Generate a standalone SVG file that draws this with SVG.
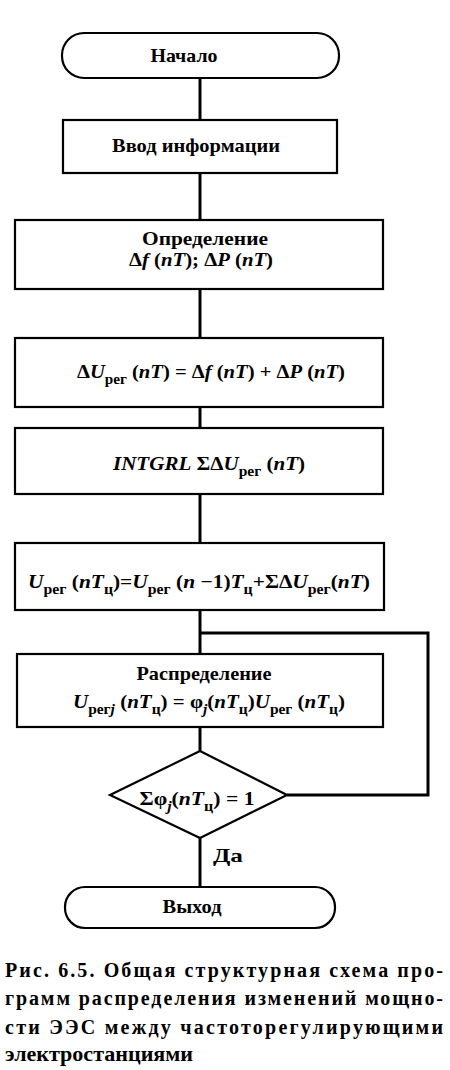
<svg xmlns="http://www.w3.org/2000/svg" width="450" height="1070" viewBox="0 0 450 1070">
<style>
.b{fill:#fff;stroke:#000;stroke-width:2.2}
.c{fill:none;stroke:#000;stroke-width:3}
.m{text-anchor:middle}
.i{font-style:italic}
.s{font-size:14px}
.cap{font-size:20px}
</style>
<rect width="450" height="1070" fill="#fff"/>
<g id="connectors">
<path class="c" d="M200 78V120M200 173V220M200 289V338M200 407V428M200 494V543M200 610V654M200 727V751M200 838V887"/>
<path class="c" d="M287 795H428V633H200"/>
</g>
<g font-family="Liberation Serif, Times New Roman, DejaVu Serif, serif" font-weight="bold" font-size="19" fill="#000">
<g id="start"><rect class="b" x="62" y="33" width="277" height="45" rx="22"/><text class="m" x="184" y="62" textLength="67" lengthAdjust="spacingAndGlyphs">Начало</text></g>
<g id="input"><rect class="b" x="63" y="120" width="274" height="53"/><text class="m" x="196" y="152" textLength="168" lengthAdjust="spacingAndGlyphs">Ввод информации</text></g>
<g id="determine"><rect class="b" x="15" y="220" width="368" height="69"/>
<text class="m" x="205" y="245" textLength="126" lengthAdjust="spacingAndGlyphs">Определение</text>
<text class="m" x="201" y="266" textLength="144" lengthAdjust="spacingAndGlyphs">Δ<tspan class="i">f</tspan> (<tspan class="i">nT</tspan>); Δ<tspan class="i">P</tspan> (<tspan class="i">nT</tspan>)</text></g>
<g id="deltaU"><rect class="b" x="15" y="338" width="368" height="69"/>
<text class="m" x="211" y="378" textLength="268" lengthAdjust="spacingAndGlyphs">Δ<tspan class="i">U</tspan><tspan class="s" dy="6">рег</tspan><tspan dy="-6"> (</tspan><tspan class="i">nT</tspan>) = Δ<tspan class="i">f</tspan> (<tspan class="i">nT</tspan>) + Δ<tspan class="i">P</tspan> (<tspan class="i">nT</tspan>)</text></g>
<g id="intgrl"><rect class="b" x="15" y="428" width="368" height="66"/>
<text class="m" x="209" y="470" textLength="192" lengthAdjust="spacingAndGlyphs"><tspan class="i">INTGRL</tspan> ΣΔ<tspan class="i">U</tspan><tspan class="s" dy="6">рег</tspan><tspan dy="-6"> (</tspan><tspan class="i">nT</tspan>)</text></g>
<g id="ureg"><rect class="b" x="15" y="543" width="369" height="67"/>
<text class="m" x="199" y="588" textLength="342" lengthAdjust="spacingAndGlyphs"><tspan class="i">U</tspan><tspan class="s" dy="6">рег</tspan><tspan dy="-6"> (</tspan><tspan class="i">nT</tspan><tspan class="s" dy="6">ц</tspan><tspan dy="-6">)=</tspan><tspan class="i">U</tspan><tspan class="s" dy="6">рег</tspan><tspan dy="-6"> (</tspan><tspan class="i">n</tspan> −1)<tspan class="i">T</tspan><tspan class="s" dy="6">ц</tspan><tspan dy="-6">+ΣΔ</tspan><tspan class="i">U</tspan><tspan class="s" dy="6">рег</tspan><tspan dy="-6">(</tspan><tspan class="i">nT</tspan>)</text></g>
<g id="distribute"><rect class="b" x="17" y="654" width="366" height="73"/>
<text class="m" x="204" y="680" textLength="135" lengthAdjust="spacingAndGlyphs">Распределение</text>
<text class="m" x="209" y="708" textLength="272" lengthAdjust="spacingAndGlyphs"><tspan class="i">U</tspan><tspan class="s" dy="6">рег<tspan class="i">j</tspan></tspan><tspan dy="-6"> (</tspan><tspan class="i">nT</tspan><tspan class="s" dy="6">ц</tspan><tspan dy="-6">) = φ</tspan><tspan class="s i" dy="6">j</tspan><tspan dy="-6">(</tspan><tspan class="i">nT</tspan><tspan class="s" dy="6">ц</tspan><tspan dy="-6">)</tspan><tspan class="i">U</tspan><tspan class="s" dy="6">рег</tspan><tspan dy="-6"> (</tspan><tspan class="i">nT</tspan><tspan class="s" dy="6">ц</tspan><tspan dy="-6">)</tspan></text></g>
<g id="check"><polygon class="b" points="200,751 287,795 200,838 110,795"/>
<text class="m" x="197" y="805" textLength="115" lengthAdjust="spacingAndGlyphs">Σφ<tspan class="s i" dy="6">j</tspan><tspan dy="-6">(</tspan><tspan class="i">nT</tspan><tspan class="s" dy="6">ц</tspan><tspan dy="-6">) = 1</tspan></text>
<text x="213" y="862" textLength="30" lengthAdjust="spacingAndGlyphs">Да</text></g>
<g id="exit"><rect class="b" x="65" y="887" width="270" height="41" rx="20"/><text class="m" x="192" y="913" textLength="59" lengthAdjust="spacingAndGlyphs">Выход</text></g>
<g id="caption">
<text class="cap" x="5" y="977" textLength="438" lengthAdjust="spacing">Рис. 6.5. Общая структурная схема про-</text>
<text class="cap" x="5" y="1005" textLength="438" lengthAdjust="spacing">грамм распределения изменений мощно-</text>
<text class="cap" x="5" y="1034" textLength="438" lengthAdjust="spacing">сти ЭЭС между частоторегулирующими</text>
<text class="cap" x="5" y="1061" textLength="188" lengthAdjust="spacingAndGlyphs">электростанциями</text>
</g>
</g>
</svg>
